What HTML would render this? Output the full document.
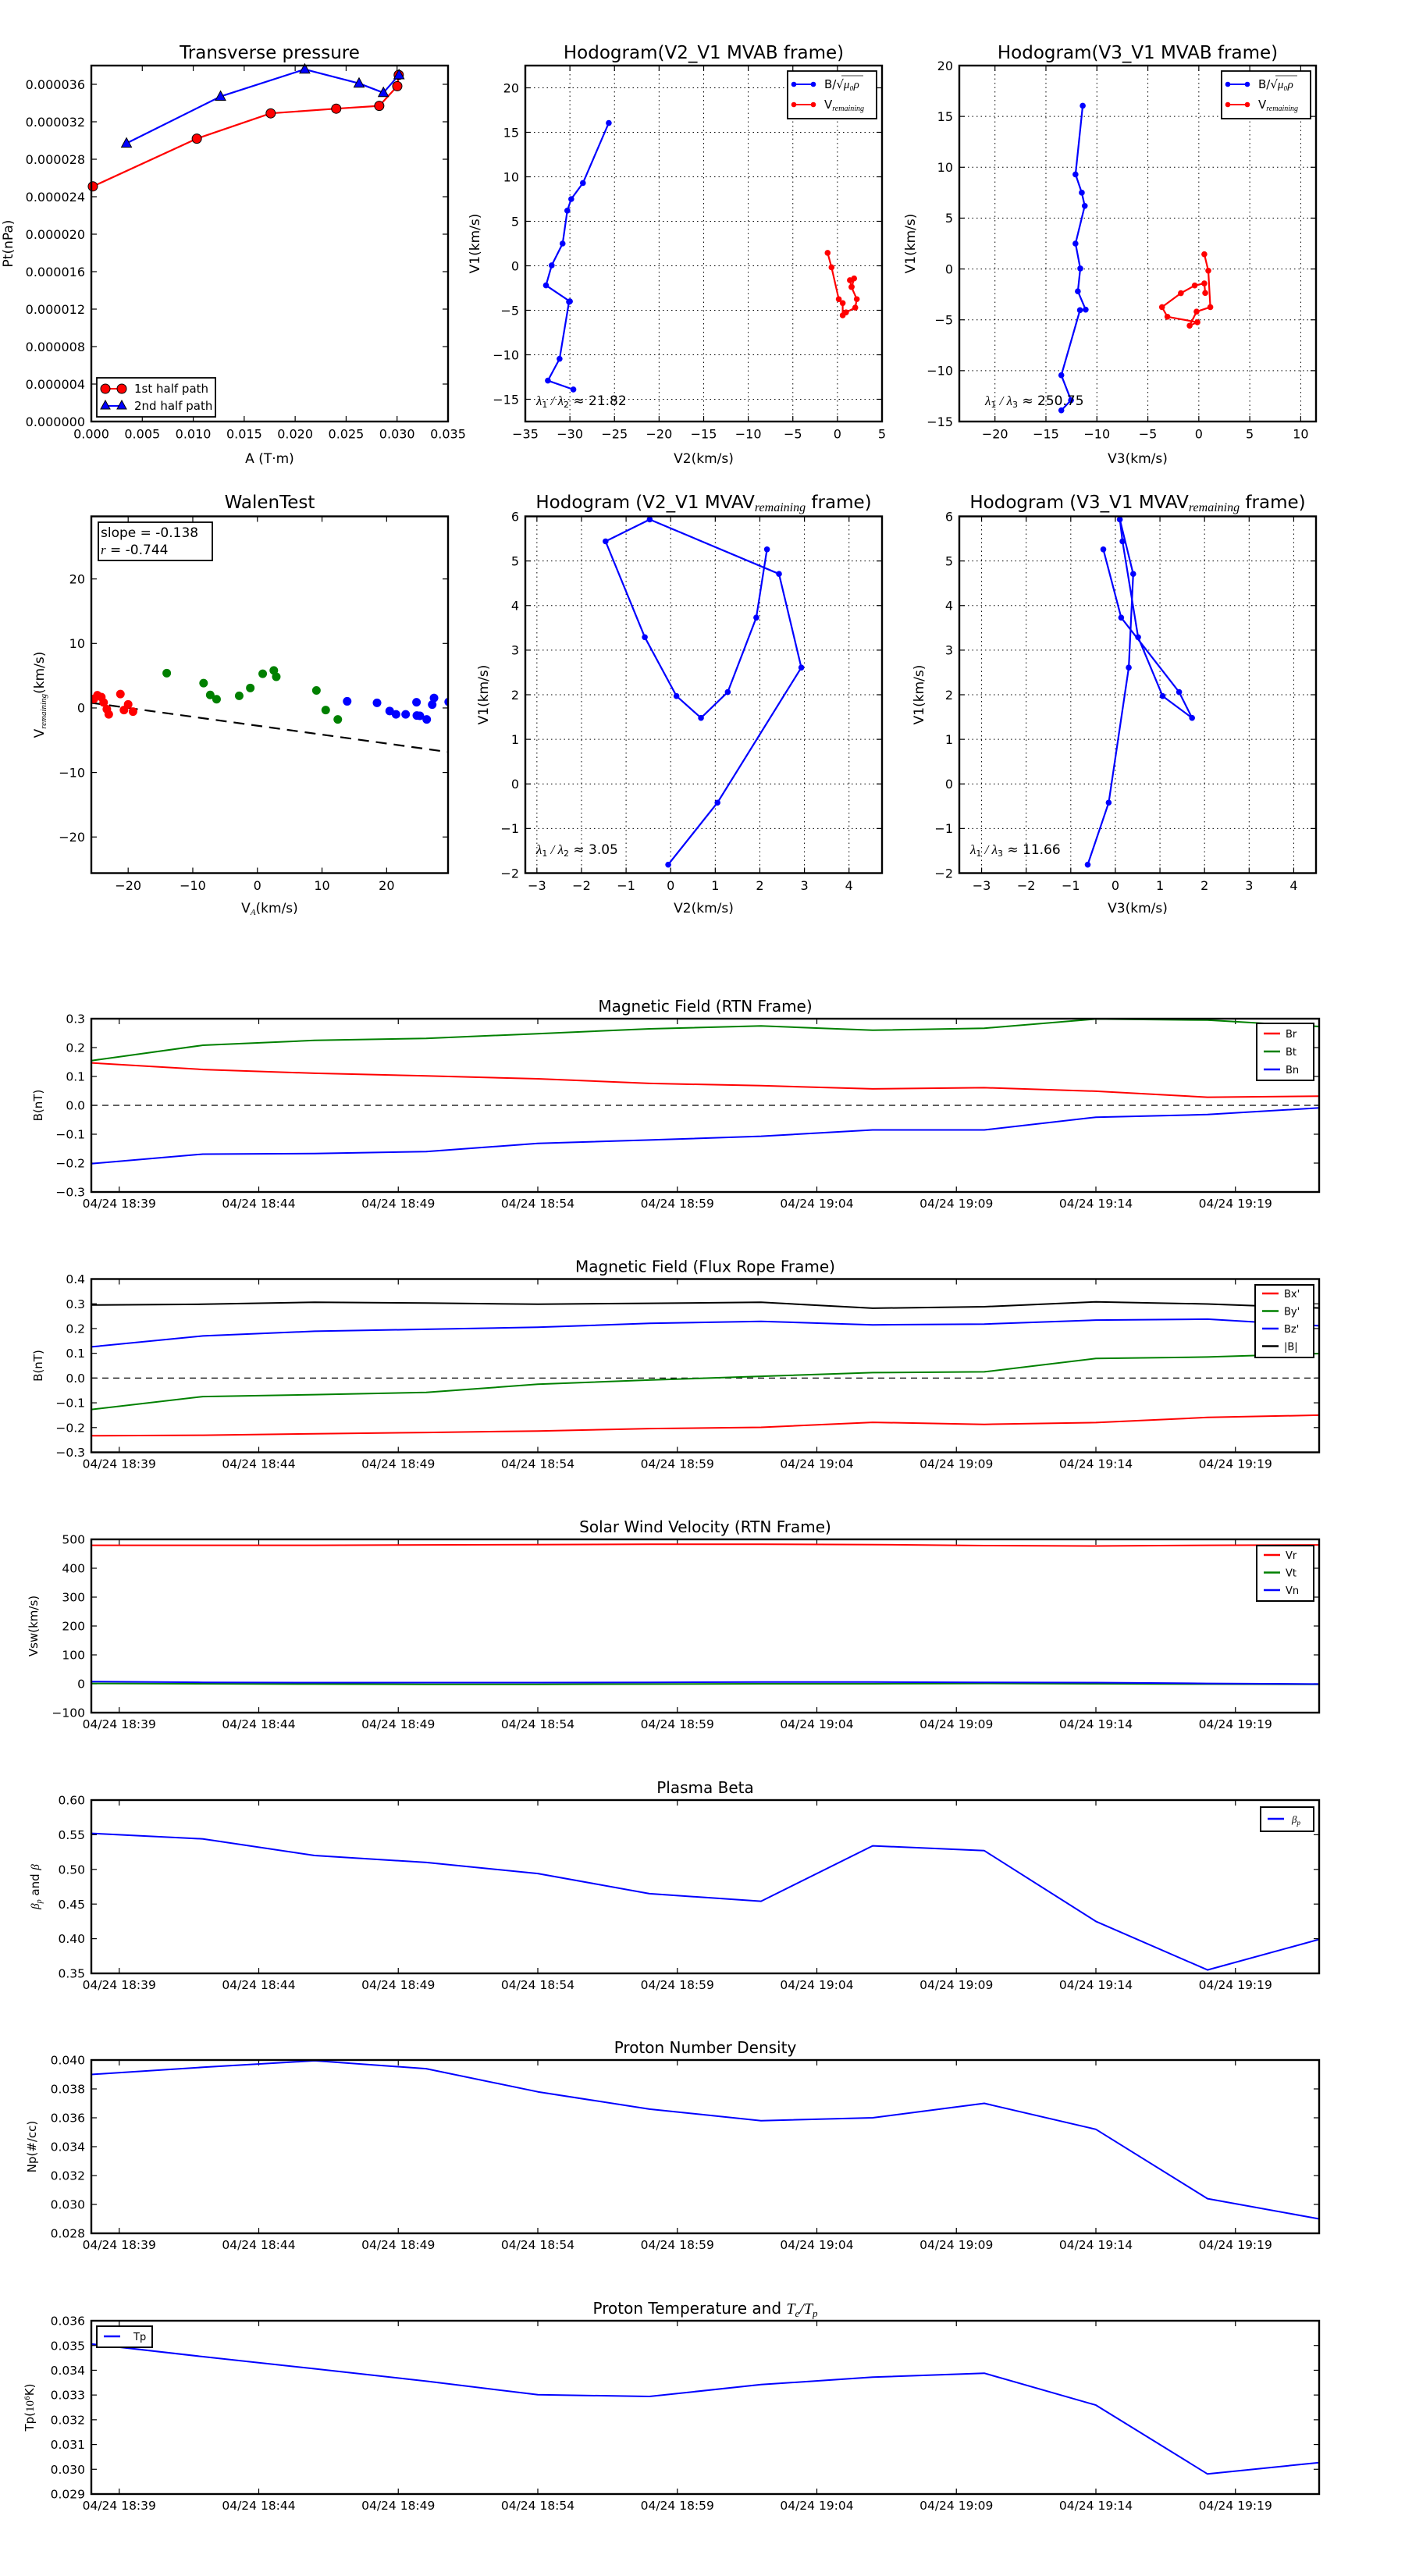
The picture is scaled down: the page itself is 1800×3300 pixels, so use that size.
<!DOCTYPE html>
<html><head><meta charset="utf-8">
<style>
html,body{margin:0;padding:0;background:#fff;}
svg{display:block;font-family:"DejaVu Sans","Liberation Sans",sans-serif;}
</style></head>
<body>
<svg id="fig" xmlns="http://www.w3.org/2000/svg" width="1800" height="3300" viewBox="0 0 1800 3300">
<rect x="0" y="0" width="1800" height="3300" fill="#fff"/>
</svg>
<script>
// ---------- DATA ----------
const tpA1=[0.00015,0.01035,0.0176,0.02403,0.02825,0.03002,0.03016];
const tpP1=[25.1e-6,30.2e-6,32.9e-6,33.4e-6,33.7e-6,35.8e-6,37.0e-6];
const tpA2=[0.00345,0.01268,0.02094,0.02627,0.02866,0.03019];
const tpP2=[29.7e-6,34.7e-6,37.6e-6,36.1e-6,35.1e-6,37.0e-6];
const tpXTicks=[0,0.005,0.010,0.015,0.020,0.025,0.030,0.035];
const tpYTicks=[0,4e-6,8e-6,12e-6,16e-6,20e-6,24e-6,28e-6,32e-6,36e-6];

const hbV1=[16.05,9.3,7.5,6.2,2.5,0.05,-2.2,-4.0,-4.05,-10.45,-12.9,-13.9];
const hbV2=[-25.64,-28.54,-29.85,-30.29,-30.82,-32.04,-32.68,-30.0,-30.1,-31.16,-32.47,-29.61];
const hbV3=[-11.39,-12.1,-11.48,-11.19,-12.1,-11.63,-11.87,-11.1,-11.66,-13.49,-12.54,-13.49];
const hrV1=[1.45,-0.17,-3.75,-4.19,-5.57,-5.24,-4.7,-3.75,-2.38,-1.62,-1.42,-2.36];
const hrV2=[-1.1,-0.66,0.15,0.59,0.59,0.96,2.0,2.17,1.57,1.40,1.87,1.6];
const hrV3=[0.54,0.93,1.13,-0.22,-0.9,-0.14,-3.08,-3.61,-1.76,-0.4,0.54,0.63];

const mvV1=[-1.81,-0.42,2.61,4.71,5.93,5.44,3.29,1.97,1.48,2.06,3.73,5.26];
const mvV2=[-0.055,1.05,2.93,2.43,-0.47,-1.46,-0.58,0.13,0.68,1.28,1.92,2.16];
const mvV3=[-0.62,-0.15,0.30,0.40,0.10,0.16,0.51,1.06,1.72,1.43,0.13,-0.27];

const wRx=[-25.3,-24.76,-24.15,-23.8,-23.3,-23.0,-21.2,-20.65,-20.0,-19.25];
const wRy=[1.4,1.97,1.69,0.85,-0.19,-0.99,2.16,-0.33,0.56,-0.56];
const wGx=[-14.03,-8.33,-7.3,-6.32,-2.82,-1.1,0.82,2.54,2.92,9.13,10.57,12.44];
const wGy=[5.4,3.85,2.02,1.36,1.88,3.1,5.3,5.82,4.84,2.72,-0.33,-1.78];
const wBx=[13.89,18.51,20.47,21.45,22.94,24.62,24.67,25.14,26.2,27.05,27.33,29.6];
const wBy=[1.03,0.8,-0.47,-0.99,-0.99,0.89,-1.17,-1.22,-1.78,0.52,1.55,0.94];
const wSlope=-0.138;
const wIntercept=-2.75;

const tMin=[0,4,8,12,16,20,24,28,32,36,40,44];
const timeTicks=[1,6,11,16,21,26,31,36,41];
const timeLabels=["04/24 18:39","04/24 18:44","04/24 18:49","04/24 18:54","04/24 18:59","04/24 19:04","04/24 19:09","04/24 19:14","04/24 19:19"];
const Br=[0.147,0.124,0.111,0.102,0.092,0.076,0.068,0.057,0.061,0.049,0.028,0.032];
const Bt=[0.155,0.208,0.225,0.232,0.248,0.265,0.275,0.260,0.267,0.299,0.295,0.273];
const Bn=[-0.202,-0.169,-0.167,-0.160,-0.132,-0.120,-0.107,-0.085,-0.085,-0.041,-0.032,-0.009];
const Bx=[-0.233,-0.231,-0.225,-0.220,-0.214,-0.204,-0.199,-0.179,-0.187,-0.180,-0.159,-0.150];
const By=[-0.127,-0.075,-0.067,-0.058,-0.025,-0.008,0.007,0.022,0.025,0.079,0.085,0.099];
const Bz=[0.126,0.170,0.189,0.197,0.205,0.221,0.229,0.215,0.218,0.234,0.238,0.211];
const Bmag=[0.295,0.298,0.306,0.303,0.298,0.302,0.306,0.282,0.288,0.308,0.299,0.283];
const Vr=[479.5,479.5,479.5,480.7,481.9,483,483,481.9,478.3,477.1,479.5,480.7];
const Vt=[1,0,-1,-2,-2,-1,0,0,1,0,-1,-2];
const Vn=[7.5,5,4,4,4,5,6,6,5,4,1,-1];
const betaP=[0.552,0.544,0.520,0.510,0.494,0.465,0.454,0.534,0.527,0.425,0.355,0.399];
const Np=[0.0390,0.0395,0.03995,0.0394,0.0378,0.0366,0.0358,0.0360,0.0370,0.0352,0.0304,0.0290];
const Tp=[0.03506,0.03455,0.03406,0.03356,0.03301,0.03294,0.03342,0.03372,0.03388,0.03259,0.02981,0.03027];

// ---------- HELPERS ----------
const NS='http://www.w3.org/2000/svg';
const svg=document.getElementById('fig');
function mk(tag,attrs,parent){const e=document.createElementNS(NS,tag);for(const k in attrs)e.setAttribute(k,attrs[k]);(parent||svg).appendChild(e);return e;}
function fmtNum(v,d){const s=Math.abs(v).toFixed(d);return (v<-1e-12?'\u2212':'')+s;}
function makeAxes(L,R,T,B,xmin,xmax,ymin,ymax){
  return {L,R,T,B,sx:v=>L+(v-xmin)/(xmax-xmin)*(R-L),sy:v=>B-(v-ymin)/(ymax-ymin)*(B-T)};
}
function drawFrame(ax,g,xt,xl,yt,yl,grid,fs,xoff){
  const xo=xoff||8;
  if(grid){
    for(const v of xt){const x=ax.sx(v);if(x<ax.L||x>ax.R)continue;
      const gl=mk('line',{x1:x,y1:ax.T,x2:x,y2:ax.B,stroke:'#000','stroke-width':1,'stroke-dasharray':'1.5,4'},g);
      
      }
    for(const v of yt){const y=ax.sy(v);if(y<ax.T||y>ax.B)continue;
      const gl=mk('line',{x1:ax.L,y1:y,x2:ax.R,y2:y,stroke:'#000','stroke-width':1,'stroke-dasharray':'1.5,4'},g);
      
      }
  }
  for(let i=0;i<xt.length;i++){const x=ax.sx(xt[i]);if(x<ax.L-0.5||x>ax.R+0.5)continue;
    const t1=mk('line',{x1:x,y1:ax.B,x2:x,y2:ax.B-7,stroke:'#000','stroke-width':1.2},g);
    
    
    const t2=mk('line',{x1:x,y1:ax.T,x2:x,y2:ax.T+7,stroke:'#000','stroke-width':1.2},g);
    
    
    const tl=mk('text',{x:x,y:ax.B+xo+fs*0.78,'font-size':fs,'text-anchor':'middle',fill:'#000'},g);
    tl.textContent=xl[i];
    
    }
  for(let i=0;i<yt.length;i++){const y=ax.sy(yt[i]);if(y<ax.T-0.5||y>ax.B+0.5)continue;
    const t1=mk('line',{x1:ax.L,y1:y,x2:ax.L+7,y2:y,stroke:'#000','stroke-width':1.2},g);
    
    
    const t2=mk('line',{x1:ax.R,y1:y,x2:ax.R-7,y2:y,stroke:'#000','stroke-width':1.2},g);
    
    
    const tl=mk('text',{x:ax.L-8,y:y+fs*0.36,'font-size':fs,'text-anchor':'end',fill:'#000'},g);
    tl.textContent=yl[i];
    
    }
}
function border(ax,g){const r=mk('rect',{x:ax.L,y:ax.T,width:ax.R-ax.L,height:ax.B-ax.T,fill:'none',stroke:'#000','stroke-width':2.4},g);
  
  }
function clipFor(ax,id){const cp=mk('clipPath',{id:id});mk('rect',{x:ax.L,y:ax.T,width:ax.R-ax.L,height:ax.B-ax.T},cp);return 'url(#'+id+')';}
function poly(ax,xs,ys,color,w,g,clip){const pts=xs.map((x,i)=>ax.sx(x).toFixed(1)+','+ax.sy(ys[i]).toFixed(1)).join(' ');
  const p=mk('polyline',{points:pts,fill:'none',stroke:color,'stroke-width':w,'stroke-linejoin':'round'},g);if(clip)p.setAttribute('clip-path',clip);return p;}
function title(x,y,s,g,fs){const t=mk('text',{x:x,y:y,'font-size':fs||20,'text-anchor':'middle',fill:'#000'},g);t.textContent=s;return t;}
function ylab(x,y,s,g,fs){const t=mk('text',{x:x,y:y,'font-size':fs||17,'text-anchor':'middle',fill:'#000',transform:'rotate(-90 '+x+' '+y+')'},g);t.textContent=s;return t;}
const hodoXl=a=>a.map(v=>fmtNum(v,0));
const TOPT=84,TOPB=540,ROW2T=661.5,ROW2B=1118.5;
const C1L=117,C1R=574,C2L=673,C2R=1130,C3L=1229,C3R=1686;
const TFS=23,KFS=16,LFS=17;

// ---------- 1. TRANSVERSE PRESSURE ----------
(function(){
  const g=mk('g',{});
  
  
  const ax=makeAxes(C1L,C1R,TOPT,TOPB,0,0.035,0,38e-6);
  drawFrame(ax,g,tpXTicks,tpXTicks.map(v=>v.toFixed(3)),tpYTicks,tpYTicks.map(v=>v.toFixed(6)),false,KFS,9);
  const l1=poly(ax,tpA1,tpP1,'#ff0000',2.2,g,null);
  
  
  for(let i=0;i<tpA1.length;i++){const c=mk('circle',{cx:ax.sx(tpA1[i]),cy:ax.sy(tpP1[i]),r:6,fill:'#ff0000',stroke:'#000','stroke-width':1},g);
    
    }
  const l2=poly(ax,tpA2,tpP2,'#0000ff',2.2,g,null);
  
  
  for(let i=0;i<tpA2.length;i++){const x=ax.sx(tpA2[i]),y=ax.sy(tpP2[i]);
    const t=mk('polygon',{points:`${x},${y-7} ${x-6.5},${y+5} ${x+6.5},${y+5}`,fill:'#0000ff',stroke:'#000','stroke-width':1},g);
    
    }
  border(ax,g);
  const tt=title((C1L+C1R)/2,75,'Transverse pressure',g,TFS);
  
  
  const xl=title((C1L+C1R)/2,593,'A (T\u00b7m)',g,LFS);
  
  
  const yl=ylab(16,312,'Pt(nPa)',g);
  
  
  const lg=mk('g',{},g);
  
  
  mk('rect',{x:124,y:484,width:152,height:50,fill:'#fff',stroke:'#000','stroke-width':1.8},lg);
  mk('line',{x1:135,y1:498,x2:156,y2:498,stroke:'#ff0000','stroke-width':2},lg);
  mk('circle',{cx:135,cy:498,r:6,fill:'#ff0000',stroke:'#000'},lg);
  mk('circle',{cx:156,cy:498,r:6,fill:'#ff0000',stroke:'#000'},lg);
  const e1=mk('text',{x:172,y:503,'font-size':15},lg);e1.textContent='1st half path';
  
  
  mk('line',{x1:135,y1:520,x2:156,y2:520,stroke:'#0000ff','stroke-width':2},lg);
  mk('polygon',{points:'135,513 129,524 141,524',fill:'#0000ff',stroke:'#000'},lg);
  mk('polygon',{points:'156,513 150,524 162,524',fill:'#0000ff',stroke:'#000'},lg);
  const e2=mk('text',{x:172,y:525,'font-size':15},lg);e2.textContent='2nd half path';
  
  
})();

// ---------- HODOGRAM HELPER ----------
function hodoLegend(g,x){
  const lg=mk('g',{},g);
  
  
  mk('rect',{x:x,y:91,width:114,height:61,fill:'#fff',stroke:'#000','stroke-width':1.8},lg);
  mk('line',{x1:x+8,y1:108,x2:x+33,y2:108,stroke:'#0000ff','stroke-width':2},lg);
  mk('circle',{cx:x+8,cy:108,r:3.3,fill:'#0000ff'},lg);mk('circle',{cx:x+33,cy:108,r:3.3,fill:'#0000ff'},lg);
  const t1=mk('text',{x:x+47,y:113,'font-size':15},lg);
  t1.innerHTML='B/\u221a<tspan font-family="Liberation Serif,serif" font-style="italic">\u03bc\u2080\u03c1</tspan>';
  
  
  mk('line',{x1:x+69,y1:97,x2:x+97,y2:97,stroke:'#000','stroke-width':0.8},lg);
  mk('line',{x1:x+8,y1:134,x2:x+33,y2:134,stroke:'#ff0000','stroke-width':2},lg);
  mk('circle',{cx:x+8,cy:134,r:3.3,fill:'#ff0000'},lg);mk('circle',{cx:x+33,cy:134,r:3.3,fill:'#ff0000'},lg);
  const t2=mk('text',{x:x+47,y:139,'font-size':15},lg);
  t2.innerHTML='V<tspan font-size="10" font-family="Liberation Serif,serif" font-style="italic" dy="3">remaining</tspan>';
  
  
}
function drawPath(ax,xs,ys,color,g,cl,name){
  const l=poly(ax,xs,ys,color,2.2,g,cl);
  
  
  for(let i=0;i<xs.length;i++){const c=mk('circle',{cx:ax.sx(xs[i]),cy:ax.sy(ys[i]),r:3.8,fill:color},g);
    c.setAttribute('clip-path',cl);
    
    }
}
function ratioText(x,y,sub,val,g){
  const t=mk('text',{x:x,y:y,'font-size':17},g);
  t.innerHTML='<tspan font-family="Liberation Serif,serif" font-style="italic">\u03bb</tspan><tspan font-size="11" dy="3">1</tspan><tspan dy="-3" font-family="Liberation Serif,serif" font-style="italic"> / \u03bb</tspan><tspan font-size="11" dy="3">'+sub+'</tspan><tspan dy="-3"> \u2248 '+val+'</tspan>';
  
  
}

// ---------- 2. HODOGRAM V2_V1 MVAB ----------
(function(){
  const g=mk('g',{});
  
  
  const ax=makeAxes(C2L,C2R,TOPT,TOPB,-35,5,-17.5,22.5);
  const xt=[-35,-30,-25,-20,-15,-10,-5,0,5],yt=[-15,-10,-5,0,5,10,15,20];
  drawFrame(ax,g,xt,hodoXl(xt),yt,hodoXl(yt),true,KFS,9);
  const cl=clipFor(ax,'c2');
  drawPath(ax,hbV2,hbV1,'#0000ff',g,cl,'b-alfven-path');
  drawPath(ax,hrV2,hrV1,'#ff0000',g,cl,'v-remaining-path');
  border(ax,g);
  hodoLegend(g,1009);
  ratioText(687,519,'2','21.82',g);
  const tt=title((C2L+C2R)/2,75,'Hodogram(V2_V1 MVAB frame)',g,TFS);
  
  
  const xl=title((C2L+C2R)/2,593,'V2(km/s)',g,LFS);
  
  
  const yl=ylab(614,312,'V1(km/s)',g);
  
  
})();

// ---------- 3. HODOGRAM V3_V1 MVAB ----------
(function(){
  const g=mk('g',{});
  
  
  const ax=makeAxes(C3L,C3R,TOPT,TOPB,-23.5,11.5,-15,20);
  const xt=[-20,-15,-10,-5,0,5,10],yt=[-15,-10,-5,0,5,10,15,20];
  drawFrame(ax,g,xt,hodoXl(xt),yt,hodoXl(yt),true,KFS,9);
  const cl=clipFor(ax,'c3');
  drawPath(ax,hbV3,hbV1,'#0000ff',g,cl,'b-alfven-path');
  drawPath(ax,hrV3,hrV1,'#ff0000',g,cl,'v-remaining-path');
  border(ax,g);
  hodoLegend(g,1565);
  ratioText(1262,519,'3','250.75',g);
  const tt=title((C3L+C3R)/2,75,'Hodogram(V3_V1 MVAB frame)',g,TFS);
  
  
  const xl=title((C3L+C3R)/2,593,'V3(km/s)',g,LFS);
  
  
  const yl=ylab(1172,312,'V1(km/s)',g);
  
  
})();

// ---------- 4. WALEN TEST ----------
(function(){
  const g=mk('g',{});
  
  
  const ax=makeAxes(C1L,C1R,ROW2T,ROW2B,-25.7,29.5,-25.6,29.7);
  const xt=[-20,-10,0,10,20],yt=[-20,-10,0,10,20];
  drawFrame(ax,g,xt,hodoXl(xt),yt,hodoXl(yt),false,KFS,9);
  const cl=clipFor(ax,'c4');
  const fx0=-25.7,fx1=29.5;
  const fit=mk('line',{x1:ax.sx(fx0),y1:ax.sy(wSlope*fx0+wIntercept),x2:ax.sx(fx1),y2:ax.sy(wSlope*fx1+wIntercept),stroke:'#000','stroke-width':2.2,'stroke-dasharray':'14,9'},g);
  
  
  const sets=[[wRx,wRy,'#ff0000','red'],[wGx,wGy,'#008000','green'],[wBx,wBy,'#0000ff','blue']];
  for(const s of sets){for(let i=0;i<s[0].length;i++){
    const c=mk('circle',{cx:ax.sx(s[0][i]),cy:ax.sy(s[1][i]),r:5.5,fill:s[2],'clip-path':cl},g);
    
    }}
  border(ax,g);
  const bx=mk('g',{},g);
  
  
  mk('rect',{x:126,y:669,width:146,height:49,fill:'#fff',stroke:'#000','stroke-width':1.8},bx);
  const s1=mk('text',{x:129,y:688,'font-size':17},bx);s1.textContent='slope = -0.138';
  
  
  const s2=mk('text',{x:129,y:710,'font-size':17},bx);
  s2.innerHTML='<tspan font-family="Liberation Serif,serif" font-style="italic">r</tspan> = -0.744';
  
  
  const tt=title((C1L+C1R)/2,651,'WalenTest',g,TFS);
  
  
  const xl=mk('text',{x:(C1L+C1R)/2,y:1169,'font-size':LFS,'text-anchor':'middle'},g);
  xl.innerHTML='V<tspan font-size="11" font-family="Liberation Serif,serif" font-style="italic" dy="3">A</tspan><tspan dy="-3">(km/s)</tspan>';
  
  
  const yl=mk('text',{x:56,y:890,'font-size':LFS,'text-anchor':'middle',transform:'rotate(-90 56 890)'},g);
  yl.innerHTML='V<tspan font-size="11" font-family="Liberation Serif,serif" font-style="italic" dy="3">remaining</tspan><tspan dy="-3">(km/s)</tspan>';
  
  
})();

// ---------- 5/6. HODOGRAM MVAV ----------
function mvav(L,R,xmin,xmax,xs,name,titleStr,xlabel,ylx,sub,val,cid){
  const g=mk('g',{});
  
  
  const ax=makeAxes(L,R,ROW2T,ROW2B,xmin,xmax,-2,6);
  const xt=[-3,-2,-1,0,1,2,3,4],yt=[-2,-1,0,1,2,3,4,5,6];
  drawFrame(ax,g,xt,hodoXl(xt),yt,hodoXl(yt),true,KFS,9);
  const cl=clipFor(ax,cid);
  drawPath(ax,xs,mvV1,'#0000ff',g,cl,'b-alfven-path');
  border(ax,g);
  ratioText(L+14,1094,sub,val,g);
  const tt=mk('text',{x:(L+R)/2,y:651,'font-size':TFS,'text-anchor':'middle'},g);
  tt.innerHTML=titleStr+'<tspan font-size="16" font-family="Liberation Serif,serif" font-style="italic" dy="4">remaining</tspan><tspan dy="-4"> frame)</tspan>';
  
  
  const xl=title((L+R)/2,1169,xlabel,g,LFS);
  
  
  const yl=ylab(ylx,890,'V1(km/s)',g);
  
  
}
mvav(C2L,C2R,-3.26,4.74,mvV2,'hodogram-v2-v1-mvav-chart','Hodogram (V2_V1 MVAV','V2(km/s)',625,'2','3.05','c5');
mvav(C3L,C3R,-3.5,4.5,mvV3,'hodogram-v3-v1-mvav-chart','Hodogram (V3_V1 MVAV','V3(km/s)',1183,'3','11.66','c6');

// ---------- TIME SERIES ----------
function tsPanel(o){
  const g=mk('g',{});
  
  
  const T=o.top,B=o.top+222;
  const ax=makeAxes(117,1690,T,B,0,44,o.ymin,o.ymax);
  drawFrame(ax,g,timeTicks,timeLabels,o.yt,o.yl,false,15.5);
  const cl=clipFor(ax,o.cid);
  if(o.zero){const z=mk('line',{x1:117,y1:ax.sy(0),x2:1690,y2:ax.sy(0),stroke:'#000','stroke-width':1.2,'stroke-dasharray':'8,6'},g);
    
    }
  for(const s of o.series){const l=poly(ax,tMin,s.d,s.c,2,g,cl);
    
    }
  border(ax,g);
  const tt=mk('text',{x:903.5,y:T-9,'font-size':20,'text-anchor':'middle'},g);
  tt.innerHTML=o.title;
  
  
  const yl=mk('text',{x:o.ylx,y:T+111,'font-size':15,'text-anchor':'middle',transform:'rotate(-90 '+o.ylx+' '+(T+111)+')'},g);
  yl.innerHTML=o.ylabel;
  
  
  const L=o.leg;
  if(L.w<2)return;
  const lg=mk('g',{},g);
  
  
  mk('rect',{x:L.x,y:L.y,width:L.w,height:L.h,fill:'#fff',stroke:'#000','stroke-width':2},lg);
  for(let i=0;i<o.series.length;i++){const yy=L.y+L.first+i*L.step;
    mk('line',{x1:L.x+9,y1:yy,x2:L.x+30,y2:yy,stroke:o.series[i].c,'stroke-width':2.5},lg);
    const t=mk('text',{x:L.x+L.tx,y:yy+5,'font-size':13},lg);
    t.innerHTML=o.series[i].label;
    
    }
}
tsPanel({name:'magnetic-field-rtn-chart',cid:'t1',top:1305,ymin:-0.3,ymax:0.3,
  yt:[-0.3,-0.2,-0.1,0,0.1,0.2,0.3],yl:['\u22120.3','\u22120.2','\u22120.1','0.0','0.1','0.2','0.3'],zero:true,
  series:[{d:Br,c:'#ff0000',n:'br',label:'Br'},{d:Bt,c:'#008000',n:'bt',label:'Bt'},{d:Bn,c:'#0000ff',n:'bn',label:'Bn'}],
  title:'Magnetic Field (RTN Frame)',ylabel:'B(nT)',ylx:54,
  leg:{x:1610,y:1311,w:73,h:73,first:13,step:23,tx:37}});
tsPanel({name:'magnetic-field-flux-rope-chart',cid:'t2',top:1638.5,ymin:-0.3,ymax:0.4,
  yt:[-0.3,-0.2,-0.1,0,0.1,0.2,0.3,0.4],yl:['\u22120.3','\u22120.2','\u22120.1','0.0','0.1','0.2','0.3','0.4'],zero:true,
  series:[{d:Bx,c:'#ff0000',n:'bx',label:"Bx'"},{d:By,c:'#008000',n:'by',label:"By'"},{d:Bz,c:'#0000ff',n:'bz',label:"Bz'"},{d:Bmag,c:'#000000',n:'bmag',label:'|B|'}],
  title:'Magnetic Field (Flux Rope Frame)',ylabel:'B(nT)',ylx:54,
  leg:{x:1608,y:1646,w:75,h:93,first:11,step:22.5,tx:37}});
tsPanel({name:'solar-wind-velocity-chart',cid:'t3',top:1972,ymin:-100,ymax:500,
  yt:[-100,0,100,200,300,400,500],yl:['\u2212100','0','100','200','300','400','500'],zero:false,
  series:[{d:Vr,c:'#ff0000',n:'vr',label:'Vr'},{d:Vt,c:'#008000',n:'vt',label:'Vt'},{d:Vn,c:'#0000ff',n:'vn',label:'Vn'}],
  title:'Solar Wind Velocity (RTN Frame)',ylabel:'Vsw(km/s)',ylx:48,
  leg:{x:1610,y:1980,w:73,h:71,first:12,step:22.5,tx:37}});
tsPanel({name:'plasma-beta-chart',cid:'t4',top:2306,ymin:0.35,ymax:0.60,
  yt:[0.35,0.40,0.45,0.50,0.55,0.60],yl:['0.35','0.40','0.45','0.50','0.55','0.60'],zero:false,
  series:[{d:betaP,c:'#0000ff',n:'beta-p',label:'<tspan font-family="Liberation Serif,serif" font-style="italic">\u03b2</tspan><tspan font-size="9" dy="3" font-family="Liberation Serif,serif" font-style="italic">p</tspan>'}],
  title:'Plasma Beta',ylabel:'<tspan font-family="Liberation Serif,serif" font-style="italic">\u03b2</tspan><tspan font-size="10" font-family="Liberation Serif,serif" font-style="italic" dy="3">p</tspan><tspan dy="-3"> and </tspan><tspan font-family="Liberation Serif,serif" font-style="italic">\u03b2</tspan>',ylx:50,
  leg:{x:1615,y:2315,w:68,h:31,first:15,step:22,tx:40}});
tsPanel({name:'proton-number-density-chart',cid:'t5',top:2639,ymin:0.028,ymax:0.040,
  yt:[0.028,0.030,0.032,0.034,0.036,0.038,0.040],yl:['0.028','0.030','0.032','0.034','0.036','0.038','0.040'],zero:false,
  series:[{d:Np,c:'#0000ff',n:'np',label:''}],
  title:'Proton Number Density',ylabel:'Np(#/cc)',ylx:46,
  leg:{x:0,y:0,w:1,h:1,first:0,step:0,tx:0}});
tsPanel({name:'proton-temperature-chart',cid:'t6',top:2973,ymin:0.029,ymax:0.036,
  yt:[0.029,0.030,0.031,0.032,0.033,0.034,0.035,0.036],yl:['0.029','0.030','0.031','0.032','0.033','0.034','0.035','0.036'],zero:false,
  series:[{d:Tp,c:'#0000ff',n:'tp',label:'Tp'}],
  title:'Proton Temperature and <tspan font-family="Liberation Serif,serif" font-style="italic">T</tspan><tspan font-size="13" font-family="Liberation Serif,serif" font-style="italic" dy="4">e</tspan><tspan dy="-4" font-family="Liberation Serif,serif" font-style="italic">/T</tspan><tspan font-size="13" font-family="Liberation Serif,serif" font-style="italic" dy="4">p</tspan>',
  ylabel:'Tp(<tspan font-family="Liberation Serif,serif">10</tspan><tspan font-size="9" dy="-5">6</tspan><tspan dy="5">K)</tspan>',ylx:43,
  leg:{x:124,y:2980,w:71,h:27,first:13,step:22,tx:47}});
</script>
</body></html>
